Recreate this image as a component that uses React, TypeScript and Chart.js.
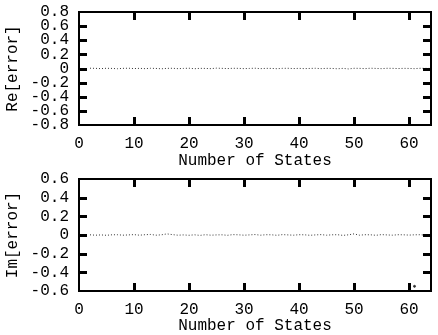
import React, { useEffect, useRef } from "react";
import { Chart, registerables } from "chart.js";

Chart.register(...registerables);

// Number of states (x positions)
const states: number[] = [
  2, 3, 4, 5, 6, 7, 8, 9, 10, 11, 12, 13, 14, 15, 16, 17, 18, 19, 20, 21, 22,
  23, 24, 25, 26, 27, 28, 29, 30, 31, 32, 33, 34, 35, 36, 37, 38, 39, 40, 41,
  42, 43, 44, 45, 46, 47, 48, 49, 50, 51, 52, 53, 54, 55, 56, 57, 58, 59, 60,
  61, 62, 63, 64,
];

// Re[error] values
const reError: number[] = [
  0.004, 0.002, -0.002, 0.003, 0.001, -0.003, 0.002, 0.004, -0.001, 0.002,
  -0.002, 0.003, 0.001, -0.004, 0.002, 0.003, -0.002, 0.001, 0.004, -0.003,
  0.002, 0.001, -0.002, 0.005, 0.002, -0.001, 0.003, 0.002, -0.002, 0.001,
  0.004, -0.002, 0.002, 0.001, -0.003, 0.002, 0.003, -0.001, 0.002, -0.002,
  0.001, 0.003, -0.002, 0.002, 0.001, -0.004, 0.002, -0.006, 0.003, 0.002,
  -0.002, 0.004, 0.001, -0.002, 0.003, 0.002, -0.001, 0.002, 0.001, -0.002,
  0.003, 0.002, 0.001,
];

// Im[error] values
const imError: number[] = [
  0.002, -0.002, 0.001, -0.003, 0.002, 0.003, -0.002, 0.001, 0.004, -0.002,
  0.003, 0.006, -0.002, 0.002, 0.012, 0.004, -0.002, 0.001, -0.003, 0.002,
  -0.004, 0.003, -0.002, 0.001, 0.002, -0.003, 0.004, 0.002, -0.002, 0.001,
  0.005, -0.002, 0.003, 0.002, -0.003, 0.004, 0.001, -0.002, 0.003, 0.002,
  -0.003, 0.001, 0.004, -0.002, 0.002, 0.003, -0.004, 0.002, 0.012, -0.002,
  0.003, 0.002, -0.003, 0.004, 0.001, -0.002, 0.003, 0.002, -0.001, 0.002,
  0.003, -0.002, 0.001,
];

// Stray point in the lower panel
const imOutlierX: number[] = [61];
const imOutlierY: number[] = [-0.55];

const xTicks: number[] = [0, 10, 20, 30, 40, 50, 60];
const reTicks: number[] = [-0.8, -0.6, -0.4, -0.2, 0, 0.2, 0.4, 0.6, 0.8];
const imTicks: number[] = [-0.6, -0.4, -0.2, 0, 0.2, 0.4, 0.6];

const FONT = "'Liberation Mono', 'Courier New', monospace";
const INK = "#000";
const TICK = 8;
const TW = 3;

function makeFrame(yTicks: number[]) {
  return {
    id: "frameTicks",
    afterDraw(chart: any) {
      const ctx = chart.ctx;
      const area = chart.chartArea;
      const left = Math.round(area.left);
      const right = Math.round(area.right);
      const top = Math.round(area.top);
      const bottom = Math.round(area.bottom);
      ctx.save();
      ctx.setLineDash([]);
      ctx.globalAlpha = 1;
      ctx.globalCompositeOperation = "source-over";
      ctx.fillStyle = INK;
      ctx.fillRect(left - 1, top - 1, right - left + 2, 2);
      ctx.fillRect(left - 1, bottom - 1, right - left + 2, 2);
      ctx.fillRect(left - 1, top - 1, 2, bottom - top + 2);
      ctx.fillRect(right - 1, top - 1, 2, bottom - top + 2);
      const xs = chart.scales.x;
      const ys = chart.scales.y;
      for (let i = 0; i < xTicks.length; i++) {
        const v = xTicks[i];
        if (v <= 0 || v >= 64) continue;
        const px = Math.round(xs.getPixelForValue(v));
        ctx.fillRect(px - 1, bottom - TICK, TW, TICK);
        ctx.fillRect(px - 1, top, TW, TICK);
      }
      const yMin = yTicks[0];
      const yMax = yTicks[yTicks.length - 1];
      for (let i = 0; i < yTicks.length; i++) {
        const v = yTicks[i];
        if (v <= yMin + 1e-9 || v >= yMax - 1e-9) continue;
        const py = Math.round(ys.getPixelForValue(v));
        ctx.fillRect(left, py - 1, TICK, TW);
        ctx.fillRect(right - TICK, py - 1, TICK, TW);
      }
      ctx.restore();
    },
  };
}

function makeConfig(
  yLabel: string,
  yVals: number[],
  yTicks: number[],
  extraX: number[],
  extraY: number[],
  topPad: number,
  axisHeight: number
): any {
  const yMin = yTicks[0];
  const yMax = yTicks[yTicks.length - 1];
  const datasets: any[] = [
    {
      data: states.map((s, i) => ({ x: s, y: yVals[i] })),
      borderColor: "#333",
      borderWidth: 1,
      borderDash: [1, 2],
      pointRadius: 0,
      showLine: true,
      fill: false,
    },
  ];
  if (extraX.length) {
    datasets.push({
      data: extraX.map((x, i) => ({ x, y: extraY[i] })),
      borderColor: "#333",
      backgroundColor: "#333",
      pointRadius: 1,
      showLine: false,
    });
  }
  const tickFont = { family: FONT, size: 16 };
  return {
    type: "scatter",
    data: { datasets },
    plugins: [makeFrame(yTicks)],
    options: {
      animation: false,
      responsive: false,
      devicePixelRatio: 1,
      layout: { padding: { top: topPad, right: 7, left: 0, bottom: 0 } },
      plugins: { legend: { display: false }, tooltip: { enabled: false } },
      scales: {
        x: {
          type: "linear",
          min: 0,
          max: 64,
          grid: { display: false, drawTicks: false },
          border: { display: false },
          afterBuildTicks: (scale: any) => {
            scale.ticks = xTicks.map((v) => ({ value: v }));
          },
          afterFit: (scale: any) => {
            scale.height = axisHeight;
            scale.paddingLeft = 0;
            scale.paddingRight = 0;
          },
          ticks: {
            padding: 9,
            autoSkip: false,
            color: INK,
            font: tickFont,
            maxRotation: 0,
            callback: (v: any) => String(v),
          },
          title: {
            display: true,
            text: "Number of States",
            color: INK,
            font: tickFont,
            padding: { top: 0, bottom: 0 },
          },
        },
        y: {
          type: "linear",
          min: yMin,
          max: yMax,
          grid: { display: false, drawTicks: false },
          border: { display: false },
          afterBuildTicks: (scale: any) => {
            scale.ticks = yTicks.map((v) => ({ value: v }));
          },
          afterFit: (scale: any) => {
            scale.width = 79;
            scale.paddingTop = 0;
            scale.paddingBottom = 0;
          },
          ticks: {
            padding: 10,
            autoSkip: false,
            color: INK,
            font: tickFont,
            callback: (v: any) => {
              const n = Number(v);
              if (Math.abs(n) < 1e-9) return "0";
              return n.toFixed(1);
            },
          },
          title: {
            display: true,
            text: yLabel,
            color: INK,
            font: tickFont,
            padding: { top: 3, bottom: 0 },
          },
        },
      },
    },
  };
}

function Panel(props: { top: number; height: number; which: string }) {
  const ref = useRef<HTMLCanvasElement | null>(null);
  useEffect(() => {
    if (!ref.current) return;
    const cfg =
      props.which === "re"
        ? makeConfig("Re[error]", reError, reTicks, [], [], 12, 45)
        : makeConfig("Im[error]", imError, imTicks, imOutlierX, imOutlierY, 9, 44);
    const chart = new Chart(ref.current, cfg);
    return () => chart.destroy();
  }, []);
  return (
    <canvas
      ref={ref}
      width={438}
      height={props.height}
      style={{
        position: "absolute",
        left: 0,
        top: props.top,
        width: 438,
        height: props.height,
        display: "block",
      }}
    />
  );
}

export default function App() {
  return (
    <div
      style={{
        position: "fixed",
        left: 0,
        top: 0,
        width: 438,
        height: 335,
        background: "#fff",
        overflow: "hidden",
      }}
    >
      <Panel top={0} height={170} which="re" />
      <Panel top={170} height={165} which="im" />
    </div>
  );
}
